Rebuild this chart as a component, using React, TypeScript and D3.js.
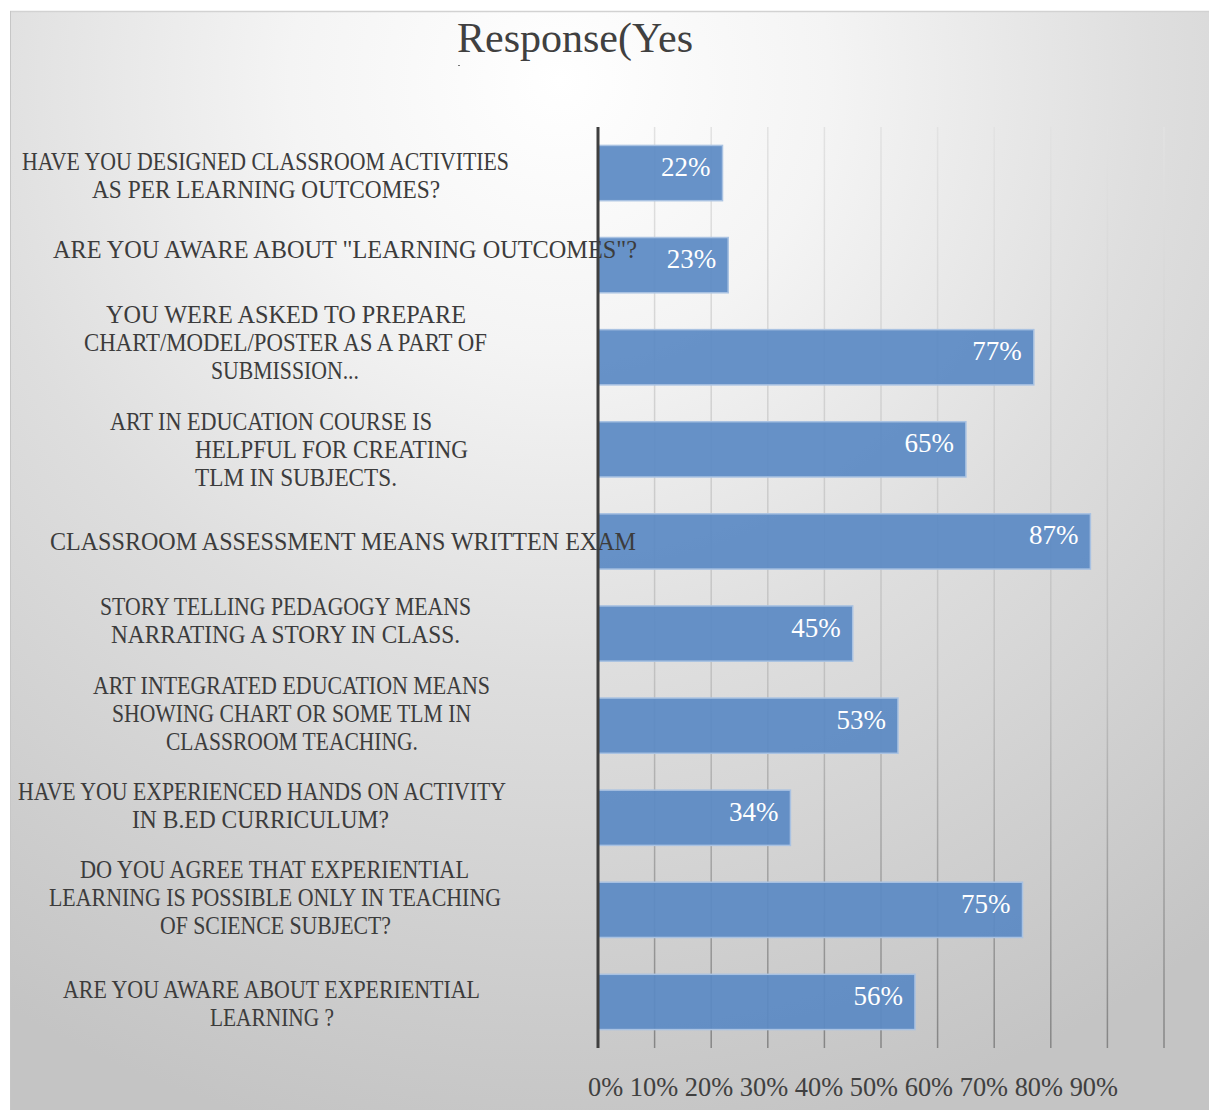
import React from "react";
import * as d3 from "d3";

const categories: string[][] = [
  ["HAVE YOU DESIGNED CLASSROOM ACTIVITIES", "AS PER LEARNING OUTCOMES?"],
  ['ARE YOU AWARE ABOUT "LEARNING OUTCOMES"?'],
  ["YOU WERE ASKED TO PREPARE", "CHART/MODEL/POSTER AS A PART OF", "SUBMISSION..."],
  ["ART IN EDUCATION COURSE IS", "HELPFUL FOR CREATING", "TLM IN SUBJECTS."],
  ["CLASSROOM ASSESSMENT MEANS WRITTEN EXAM"],
  ["STORY TELLING PEDAGOGY MEANS", "NARRATING A STORY IN CLASS."],
  ["ART INTEGRATED EDUCATION MEANS", "SHOWING CHART OR SOME TLM IN", "CLASSROOM TEACHING."],
  ["HAVE YOU EXPERIENCED HANDS ON ACTIVITY", "IN B.ED CURRICULUM?"],
  ["DO YOU AGREE THAT EXPERIENTIAL", "LEARNING IS POSSIBLE ONLY IN TEACHING", "OF SCIENCE  SUBJECT?"],
  ["ARE YOU AWARE ABOUT EXPERIENTIAL", "LEARNING ?"],
];
const yesValues: number[] = [0.22, 0.23, 0.77, 0.65, 0.87, 0.45, 0.53, 0.34, 0.75, 0.56];
const tickLabels: string[] = ["0%", "10%", "20%", "30%", "40%", "50%", "60%", "70%", "80%", "90%"];
const gridTicks: number[] = [0.1, 0.2, 0.3, 0.4, 0.5, 0.6, 0.7, 0.8, 0.9, 1.0];
const title = "Response(Yes";

// layout of the category labels (horizontal extent of each line, vertical shift), separate from data
const labelLineExtents: [number, number][][] = [
  [[22, 509], [92, 440]],
  [[53, 637]],
  [[106, 466], [84, 487], [211, 359]],
  [[110, 432], [195, 468], [195, 397]],
  [[50, 636]],
  [[100, 471], [111, 460]],
  [[93, 490], [112, 471], [166, 418]],
  [[18, 506], [132, 389]],
  [[80, 469], [49, 501], [160, 391]],
  [[63, 480], [210, 334]],
];
const labelShift: number[] = [4, -14, -13, 2, 2, -12, -11, -11, -11, 3];

const W = 1209, H = 1110;
const plotLeft = 598, plotTop = 127, plotBottom = 1048;

export default function App() {
  const x = d3.scaleLinear().domain([0, 1]).range([plotLeft, plotLeft + 566]);
  const y = d3
    .scaleBand<number>()
    .domain(d3.range(categories.length))
    .range([plotTop, plotBottom])
    .paddingInner(0.4)
    .paddingOuter(0.2);
  const serif = "'Liberation Serif', 'Times New Roman', serif";
  const lineH = 28;

  return (
    <div style={{ position: "absolute", left: 0, top: 0 }}>
      <svg width={W} height={H} style={{ display: "block" }}>
        <defs>
          <radialGradient id="bg" gradientUnits="userSpaceOnUse" cx={560} cy={80} r={1080}>
            <stop offset="0" stopColor="#ffffff" />
            <stop offset="0.25" stopColor="#f4f4f4" />
            <stop offset="0.55" stopColor="#dedede" />
            <stop offset="1" stopColor="#c4c4c4" />
          </radialGradient>
          <linearGradient id="grid" gradientUnits="userSpaceOnUse" x1={0} y1={plotTop} x2={0} y2={plotBottom}>
            <stop offset="0" stopColor="#e2e2e2" />
            <stop offset="0.6" stopColor="#c0c0c0" />
            <stop offset="1" stopColor="#858585" />
          </linearGradient>
        </defs>
        <rect x={0} y={0} width={W} height={H} fill="#ffffff" />
        <rect x={10} y={11} width={W - 10} height={H - 11} fill="url(#bg)" />
        <line x1={10} y1={11.5} x2={W} y2={11.5} stroke="#d2d2d2" strokeWidth={1.5} />
        <line x1={10.5} y1={11} x2={10.5} y2={H} stroke="#c6c6c6" strokeWidth={1} />

        <text x={457} y={52} fontFamily={serif} fontSize={42} fill="#404040">{title}</text>
        <rect x={458} y={65} width={2} height={1} fill="#777" />

        {gridTicks.map((t) => (
          <line key={t} x1={x(t)} x2={x(t)} y1={plotTop} y2={plotBottom} stroke="url(#grid)" strokeWidth={1.5} />
        ))}

        {yesValues.map((v, i) => (
          <rect
            key={i}
            x={x(0)}
            y={y(i)!}
            width={x(v) - x(0)}
            height={y.bandwidth()}
            fill="#5b8ac4"
            fillOpacity={0.93}
            stroke="#a9c2e2"
            strokeWidth={1.5}
          />
        ))}

        <line x1={plotLeft} x2={plotLeft} y1={plotTop} y2={plotBottom} stroke="#3f3f3f" strokeWidth={3} />

        {categories.map((lines, i) => {
          const cy = y(i)! + y.bandwidth() / 2 + labelShift[i];
          const n = lines.length;
          return lines.map((ln, j) => {
            const [x0, x1] = labelLineExtents[i][j];
            return (
              <text
                key={i + "-" + j}
                x={x0}
                y={cy + (j - (n - 1) / 2) * lineH + 7}
                textLength={x1 - x0}
                lengthAdjust="spacingAndGlyphs"
                fontFamily={serif}
                fontSize={24.5}
                fill="#3c3c3c"
              >
                {ln}
              </text>
            );
          });
        })}

        {yesValues.map((v, i) => (
          <text
            key={"v" + i}
            x={x(v) - 12}
            y={y(i)! + y.bandwidth() / 2 + 3}
            textAnchor="end"
            fontFamily={serif}
            fontSize={27}
            fill="#ffffff"
          >
            {d3.format(".0%")(v)}
          </text>
        ))}

        <text x={588} y={1096} fontFamily={serif} fontSize={26.4} fill="#404040" xmlSpace="preserve">
          {tickLabels.map((t, i) => (
            <tspan key={t}>{(i > 0 ? " " : "") + t}</tspan>
          ))}
        </text>
      </svg>
    </div>
  );
}
